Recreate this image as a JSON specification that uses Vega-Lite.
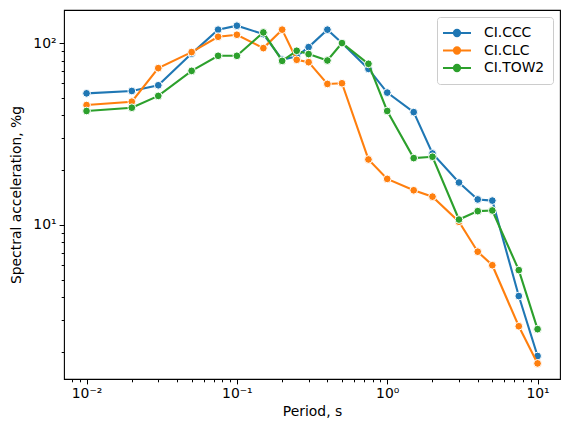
{
  "$schema": "https://vega.github.io/schema/vega-lite/v6.json",
  "width": 496,
  "height": 369,
  "autosize": {"type": "none"},
  "padding": {"left": 64, "top": 10, "right": 10, "bottom": 58},
  "background": "white",
  "config": {
    "font": "DejaVu Sans",
    "view": {"stroke": "black", "strokeWidth": 1.1},
    "axis": {
      "grid": false,
      "domain": false,
      "tickColor": "black",
      "tickWidth": 1,
      "labelColor": "black",
      "labelFont": "DejaVu Sans",
      "labelFontSize": 13.9,
      "titleFont": "DejaVu Sans",
      "titleFontSize": 13.9,
      "titleFontWeight": "normal",
      "titleColor": "black"
    }
  },
  "data": {
    "values": [
      {"period": 0.01, "series": "CI.CCC", "sa": 52.9},
      {"period": 0.02, "series": "CI.CCC", "sa": 54.5},
      {"period": 0.03, "series": "CI.CCC", "sa": 58.6},
      {"period": 0.05, "series": "CI.CCC", "sa": 87.5},
      {"period": 0.075, "series": "CI.CCC", "sa": 118.5},
      {"period": 0.1, "series": "CI.CCC", "sa": 124.6},
      {"period": 0.15, "series": "CI.CCC", "sa": 112},
      {"period": 0.2, "series": "CI.CCC", "sa": 81},
      {"period": 0.25, "series": "CI.CCC", "sa": 84.5},
      {"period": 0.3, "series": "CI.CCC", "sa": 95},
      {"period": 0.4, "series": "CI.CCC", "sa": 118.5},
      {"period": 0.5, "series": "CI.CCC", "sa": 100},
      {"period": 0.75, "series": "CI.CCC", "sa": 72.1},
      {"period": 1, "series": "CI.CCC", "sa": 53.4},
      {"period": 1.5, "series": "CI.CCC", "sa": 41.7},
      {"period": 2, "series": "CI.CCC", "sa": 24.7},
      {"period": 3, "series": "CI.CCC", "sa": 17.1},
      {"period": 4, "series": "CI.CCC", "sa": 13.8},
      {"period": 5, "series": "CI.CCC", "sa": 13.6},
      {"period": 7.5, "series": "CI.CCC", "sa": 4.06},
      {"period": 10, "series": "CI.CCC", "sa": 1.9},
      {"period": 0.01, "series": "CI.CLC", "sa": 45.6},
      {"period": 0.02, "series": "CI.CLC", "sa": 47.6},
      {"period": 0.03, "series": "CI.CLC", "sa": 72.8},
      {"period": 0.05, "series": "CI.CLC", "sa": 89.2},
      {"period": 0.075, "series": "CI.CLC", "sa": 108.3},
      {"period": 0.1, "series": "CI.CLC", "sa": 111.1},
      {"period": 0.15, "series": "CI.CLC", "sa": 93.8},
      {"period": 0.2, "series": "CI.CLC", "sa": 118.5},
      {"period": 0.25, "series": "CI.CLC", "sa": 80.9},
      {"period": 0.3, "series": "CI.CLC", "sa": 78.5},
      {"period": 0.4, "series": "CI.CLC", "sa": 59.6},
      {"period": 0.5, "series": "CI.CLC", "sa": 60.1},
      {"period": 0.75, "series": "CI.CLC", "sa": 22.9},
      {"period": 1, "series": "CI.CLC", "sa": 17.9},
      {"period": 1.5, "series": "CI.CLC", "sa": 15.5},
      {"period": 2, "series": "CI.CLC", "sa": 14.3},
      {"period": 3, "series": "CI.CLC", "sa": 10.4},
      {"period": 4, "series": "CI.CLC", "sa": 7.12},
      {"period": 5, "series": "CI.CLC", "sa": 6.0},
      {"period": 7.5, "series": "CI.CLC", "sa": 2.77},
      {"period": 10, "series": "CI.CLC", "sa": 1.73},
      {"period": 0.01, "series": "CI.TOW2", "sa": 42.3},
      {"period": 0.02, "series": "CI.TOW2", "sa": 44.1},
      {"period": 0.03, "series": "CI.TOW2", "sa": 51.2},
      {"period": 0.05, "series": "CI.TOW2", "sa": 70.3},
      {"period": 0.075, "series": "CI.TOW2", "sa": 85.1},
      {"period": 0.1, "series": "CI.TOW2", "sa": 85.1},
      {"period": 0.15, "series": "CI.TOW2", "sa": 114.4},
      {"period": 0.2, "series": "CI.TOW2", "sa": 79.8},
      {"period": 0.25, "series": "CI.TOW2", "sa": 90.7},
      {"period": 0.3, "series": "CI.TOW2", "sa": 87},
      {"period": 0.4, "series": "CI.TOW2", "sa": 80.2},
      {"period": 0.5, "series": "CI.TOW2", "sa": 100},
      {"period": 0.75, "series": "CI.TOW2", "sa": 76.9},
      {"period": 1, "series": "CI.TOW2", "sa": 42.3},
      {"period": 1.5, "series": "CI.TOW2", "sa": 23.3},
      {"period": 2, "series": "CI.TOW2", "sa": 23.7},
      {"period": 3, "series": "CI.TOW2", "sa": 10.7},
      {"period": 4, "series": "CI.TOW2", "sa": 11.9},
      {"period": 5, "series": "CI.TOW2", "sa": 12.0},
      {"period": 7.5, "series": "CI.TOW2", "sa": 5.64},
      {"period": 10, "series": "CI.TOW2", "sa": 2.67}
    ]
  },
  "encoding": {
    "x": {
      "field": "period",
      "type": "quantitative",
      "title": "Period, s",
      "scale": {"type": "log", "domain": [0.00708, 14.1], "nice": false},
      "axis": {
        "values": [0.008, 0.009, 0.01, 0.02, 0.03, 0.04, 0.05, 0.06, 0.07, 0.08, 0.09, 0.1, 0.2, 0.3, 0.4, 0.5, 0.6, 0.7, 0.8, 0.9, 1, 2, 3, 4, 5, 6, 7, 8, 9, 10],
        "labelExpr": "datum.value == 0.01 ? '10⁻²' : datum.value == 0.1 ? '10⁻¹' : datum.value == 1 ? '10⁰' : datum.value == 10 ? '10¹' : ''",
        "tickSize": {"condition": {"test": "datum.value == 0.01 || datum.value == 0.1 || datum.value == 1 || datum.value == 10", "value": 4.9}, "value": 2.8},
        "labelPadding": 3,
        "labelFlush": false,
        "labelOverlap": false,
        "titlePadding": 4
      }
    },
    "y": {
      "field": "sa",
      "type": "quantitative",
      "title": "Spectral acceleration, %g",
      "scale": {"type": "log", "domain": [1.42, 152], "nice": false},
      "axis": {
        "values": [2, 3, 4, 5, 6, 7, 8, 9, 10, 20, 30, 40, 50, 60, 70, 80, 90, 100],
        "labelExpr": "datum.value == 10 ? '10¹' : datum.value == 100 ? '10²' : ''",
        "tickSize": {"condition": {"test": "datum.value == 10 || datum.value == 100", "value": 4.9}, "value": 2.8},
        "labelPadding": 3,
        "labelFlush": false,
        "labelOverlap": false,
        "titlePadding": 9
      }
    },
    "color": {
      "field": "series",
      "type": "nominal",
      "scale": {"domain": ["CI.CCC", "CI.CLC", "CI.TOW2"], "range": ["#1f77b4", "#ff7f0e", "#2ca02c"]},
      "legend": {
        "title": null,
        "orient": "top-right",
        "offset": 6.7,
        "fillColor": "white",
        "strokeColor": "#cccccc",
        "cornerRadius": 3,
        "padding": 8,
        "labelFont": "DejaVu Sans",
        "labelFontSize": 13.9,
        "labelColor": "black",
        "labelOffset": 23,
        "symbolType": "M-1.43,0L2.57,0M1.02,0A0.45,0.45,0,1,1,0.12,0A0.45,0.45,0,1,1,1.02,0Z",
        "symbolSize": 196,
        "symbolStrokeWidth": 2,
        "symbolOpacity": 1,
        "rowPadding": 1.5,
        "encode": {
          "symbols": {
            "update": {
              "fill": {"scale": "color", "field": "value"},
              "stroke": {"scale": "color", "field": "value"},
              "strokeWidth": {"value": 2},
              "opacity": {"value": 1}
            }
          }
        }
      }
    }
  },
  "layer": [
    {"transform": [{"filter": "datum.series == 'CI.CCC'"}], "mark": {"type": "line", "strokeWidth": 2.1}},
    {"transform": [{"filter": "datum.series == 'CI.CCC'"}], "mark": {"type": "point", "filled": true, "size": 60, "stroke": "white", "strokeWidth": 1, "opacity": 1}},
    {"transform": [{"filter": "datum.series == 'CI.CLC'"}], "mark": {"type": "line", "strokeWidth": 2.1}},
    {"transform": [{"filter": "datum.series == 'CI.CLC'"}], "mark": {"type": "point", "filled": true, "size": 60, "stroke": "white", "strokeWidth": 1, "opacity": 1}},
    {"transform": [{"filter": "datum.series == 'CI.TOW2'"}], "mark": {"type": "line", "strokeWidth": 2.1}},
    {"transform": [{"filter": "datum.series == 'CI.TOW2'"}], "mark": {"type": "point", "filled": true, "size": 60, "stroke": "white", "strokeWidth": 1, "opacity": 1}}
  ]
}
